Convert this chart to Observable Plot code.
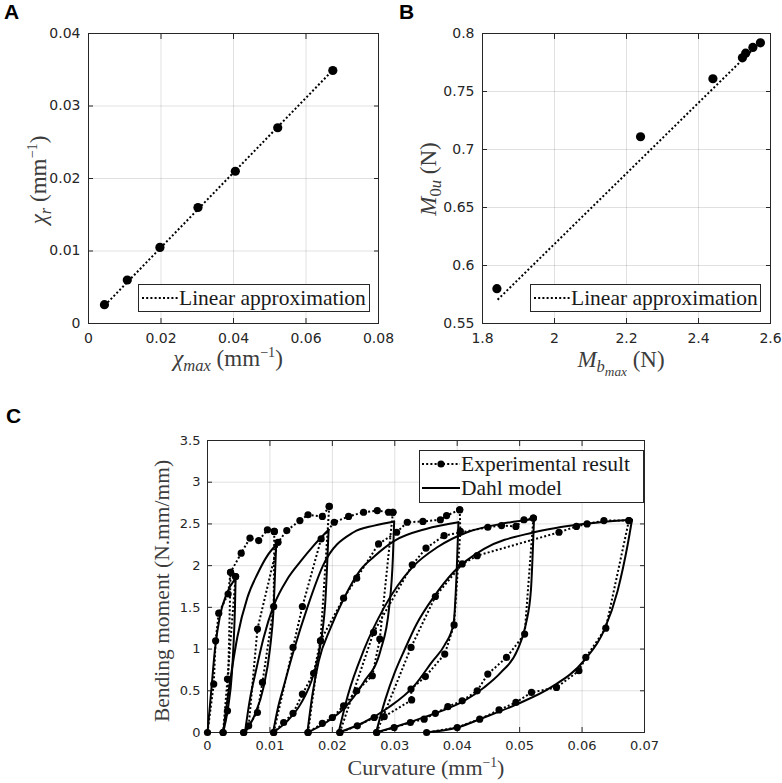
<!DOCTYPE html>
<html><head><meta charset="utf-8">
<script src="https://cdn.jsdelivr.net/npm/d3@7"></script>
<script src="https://cdn.jsdelivr.net/npm/@observablehq/plot@0.6"></script>
<style>
body{margin:0;background:#fff;}
#fig{position:relative;width:782px;height:783px;overflow:hidden;background:#fff;}
#fig svg.plot{position:absolute;}
.plab{position:absolute;font:bold 21px "Liberation Sans",Arial,sans-serif;color:#000;line-height:1;}
.ml{position:absolute;font-family:"Liberation Serif",serif;color:#3c3c3c;white-space:nowrap;line-height:1;}
.ml sup{font-size:0.62em;vertical-align:0.6em;line-height:0;}
.ml sub{font-size:0.72em;vertical-align:-0.32em;line-height:0;}
.ml sub sub{font-size:0.8em;vertical-align:-0.25em;}
.leg{position:absolute;background:#fff;border:1px solid #262626;box-sizing:border-box;}
</style></head>
<body><div id="fig"></div>
<script>
// ---------- Panel A data ----------
const aChiMax = [0.0044, 0.0107, 0.0197, 0.0302, 0.0405, 0.0522, 0.0674];
const aChiR   = [0.0026, 0.0060, 0.0105, 0.0160, 0.0210, 0.0270, 0.0349];
const aFitX = [0.0045, 0.0675];
const aFitY = [0.0025, 0.0350];
const aXTicks = [0, 0.02, 0.04, 0.06, 0.08];
const aYTicks = [0, 0.01, 0.02, 0.03, 0.04];

// ---------- Panel B data ----------
const bMbMax = [1.840, 2.239, 2.440, 2.522, 2.531, 2.551, 2.572];
const bM0u   = [0.580, 0.711, 0.761, 0.779, 0.783, 0.788, 0.792];
const bFitX = [1.842, 2.568];
const bFitY = [0.5705, 0.7914];
const bXTicks = [1.8, 2, 2.2, 2.4, 2.6];
const bYTicks = [0.55, 0.6, 0.65, 0.7, 0.75, 0.8];

// ---------- Panel C data: experimental (curvature, moment), in path order ----------
const exp1Load   = [[0,0],[0.0010,0.58],[0.0013,1.10],[0.0018,1.43],[0.0033,1.66],[0.0037,1.92],[0.0045,1.87]];
const exp1Unload = [[0.0045,1.87],[0.0032,0.64],[0.0025,0]];
const exp2Load   = [[0.0025,0],[0.0032,0.26],[0.0037,1.92],[0.0054,2.15],[0.0068,2.33],[0.0082,2.30],[0.0096,2.43],[0.0107,2.41]];
const exp2Unload = [[0.0107,2.41],[0.0106,1.51],[0.0088,0.60],[0.0080,0.24],[0.0058,0]];
const exp3Load   = [[0.0058,0],[0.0066,0.08],[0.0080,1.24],[0.0113,2.28],[0.0127,2.42],[0.0148,2.54],[0.0161,2.61],[0.0184,2.59],[0.0195,2.71]];
const exp3Unload = [[0.0195,2.71],[0.0181,1.10],[0.0170,0.71],[0.0152,0.46],[0.0137,0.23],[0.0122,0.12],[0.0106,0]];
const exp4Load   = [[0.0106,0],[0.0137,1.02],[0.0152,1.51],[0.0182,2.32],[0.0203,2.52],[0.0226,2.59],[0.0250,2.64],[0.0272,2.66],[0.0290,2.64],[0.0297,2.64]];
const exp4Unload = [[0.0297,2.64],[0.0276,1.12],[0.0264,0.68],[0.0239,0.50],[0.0218,0.32],[0.0200,0.18],[0.0184,0.11],[0.0161,0]];
const exp5Load   = [[0.0161,0],[0.0181,1.10],[0.0218,1.61],[0.0239,1.85],[0.0274,2.26],[0.0303,2.40],[0.0320,2.52],[0.0345,2.53],[0.0373,2.55],[0.0383,2.60],[0.0404,2.67]];
const exp5Unload = [[0.0404,2.67],[0.0405,2.41],[0.0395,1.29],[0.0380,0.94],[0.0349,0.67],[0.0326,0.52],[0.0327,0.39],[0.0283,0.19],[0.0267,0.18],[0.0240,0.08],[0.0212,0]];
const exp6Load   = [[0.0212,0],[0.0266,1.20],[0.0328,2.01],[0.0350,2.21],[0.0379,2.36],[0.0449,2.46],[0.0471,2.48],[0.0494,2.47],[0.0507,2.55],[0.0522,2.57]];
const exp6Unload = [[0.0522,2.57],[0.0508,1.18],[0.0479,0.90],[0.0449,0.70],[0.0432,0.50],[0.0408,0.38],[0.0385,0.31],[0.0365,0.23],[0.0347,0.16],[0.0325,0.12],[0.0299,0.06],[0.0271,0]];
const exp7Load   = [[0.0271,0],[0.0326,1.02],[0.0365,1.63],[0.0408,2.02],[0.0432,2.12],[0.0563,2.40],[0.0591,2.47],[0.0608,2.50],[0.0635,2.54],[0.0675,2.54]];
const exp7Unload = [[0.0675,2.54],[0.0638,1.25],[0.0606,0.90],[0.0595,0.74],[0.0559,0.54],[0.0519,0.48],[0.0494,0.36],[0.0467,0.27],[0.0436,0.16],[0.0400,0.06],[0.0351,0]];

// ---------- Panel C data: Dahl model branches (increasing curvature) ----------
const dahl1Load   = [[0,0],[0.0006,0.5],[0.0012,1.0],[0.0020,1.4],[0.0030,1.65],[0.0045,1.85]];
const dahl1Unload = [[0.0025,0],[0.0033,0.3],[0.0039,0.7],[0.0042,1.1],[0.0044,1.5],[0.0045,1.85]];
const dahl2Load   = [[0.0025,0],[0.0032,0.4],[0.0040,0.8],[0.0048,1.15],[0.0064,1.62],[0.0080,1.90],[0.0096,2.12],[0.0110,2.25]];
const dahl2Unload = [[0.0060,0],[0.0075,0.2],[0.0090,0.55],[0.0100,1.0],[0.0106,1.5],[0.0110,2.25]];
const dahl3Load   = [[0.0060,0],[0.0068,0.4],[0.0077,0.72],[0.0090,1.14],[0.0106,1.52],[0.0128,1.84],[0.0149,2.05],[0.0170,2.24],[0.0194,2.43]];
const dahl3Unload = [[0.0105,0],[0.0128,0.14],[0.0149,0.34],[0.0170,0.70],[0.0182,1.1],[0.0189,1.6],[0.0194,2.43]];
const dahl4Load   = [[0.0105,0],[0.0113,0.3],[0.0122,0.55],[0.0138,0.98],[0.0160,1.5],[0.0185,2.0],[0.0234,2.40],[0.0267,2.48],[0.0299,2.53]];
const dahl4Unload = [[0.0160,0],[0.0190,0.12],[0.0220,0.3],[0.0250,0.6],[0.0277,0.98],[0.0291,1.5],[0.0297,2.1],[0.0299,2.53]];
const dahl5Load   = [[0.0160,0],[0.0168,0.45],[0.0178,0.85],[0.0197,1.25],[0.0218,1.6],[0.0245,1.95],[0.0267,2.11],[0.0300,2.3],[0.0350,2.44],[0.0402,2.52]];
const dahl5Unload = [[0.0210,0],[0.0250,0.12],[0.0290,0.3],[0.0330,0.55],[0.0360,0.85],[0.0380,1.05],[0.0394,1.3],[0.0399,1.9],[0.0402,2.52]];
const dahl6Load   = [[0.0210,0],[0.0225,0.45],[0.0250,0.98],[0.0283,1.5],[0.0328,1.98],[0.0368,2.22],[0.0416,2.40],[0.0470,2.50],[0.0523,2.56]];
const dahl6Unload = [[0.0270,0],[0.0310,0.09],[0.0350,0.19],[0.0385,0.29],[0.0411,0.38],[0.0443,0.54],[0.0470,0.72],[0.0496,0.98],[0.0510,1.3],[0.0518,1.7],[0.0523,2.56]];
const dahl7Load   = [[0.0270,0],[0.0285,0.4],[0.0300,0.72],[0.0315,0.98],[0.0335,1.3],[0.0362,1.62],[0.0395,1.93],[0.0443,2.2],[0.0523,2.4],[0.0603,2.5],[0.0680,2.55]];
const dahl7Unload = [[0.0350,0],[0.0400,0.06],[0.0443,0.18],[0.0496,0.34],[0.0550,0.54],[0.0603,0.86],[0.0635,1.22],[0.0657,1.70],[0.0673,2.25],[0.0680,2.55]];
const cXTicks = [0, 0.01, 0.02, 0.03, 0.04, 0.05, 0.06, 0.07];
const cYTicks = [0, 0.5, 1, 1.5, 2, 2.5, 3, 3.5];

// ---------- helpers ----------
const fig = document.getElementById("fig");
const FRAME = "#262626";
const DOT = {stroke: "#000", strokeWidth: 2, strokeDasharray: "2,2.2", strokeLinecap: "butt", strokeLinejoin: "miter"};

function frameAxes(xt, yt, fs, padX, padY) {
  return [
    Plot.gridX(xt, {stroke: "#000", strokeOpacity: 0.12}),
    Plot.gridY(yt, {stroke: "#000", strokeOpacity: 0.12}),
    Plot.frame({stroke: FRAME, strokeWidth: 1}),
    Plot.axisX(xt, {anchor: "bottom", tickSize: -5, tickPadding: padX + 5, tickFormat: d => String(d), label: null, fontSize: fs}),
    Plot.axisX(xt, {anchor: "top", tickSize: -5, fill: "none", label: null}),
    Plot.axisY(yt, {anchor: "left", tickSize: -5, tickPadding: padY + 5, tickFormat: d => String(d), label: null, fontSize: fs}),
    Plot.axisY(yt, {anchor: "right", tickSize: -5, fill: "none", label: null})
  ];
}

function place(svg, left, top) {
  svg.classList.add("plot");
  svg.style.left = left + "px";
  svg.style.top = top + "px";
  fig.appendChild(svg);
}

function label(html, cx, cy, size, rotate) {
  const d = document.createElement("div");
  d.className = "ml";
  d.innerHTML = html;
  d.style.fontSize = size + "px";
  d.style.left = cx + "px";
  d.style.top = cy + "px";
  d.style.transform = "translate(-50%,-50%)" + (rotate ? " rotate(-90deg)" : "");
  fig.appendChild(d);
}

function panelLetter(t, left, top) {
  const d = document.createElement("div");
  d.className = "plab"; d.textContent = t;
  d.style.left = left + "px"; d.style.top = top + "px";
  fig.appendChild(d);
}

function legend(left, top, w, h, rows, fs) {
  const box = document.createElement("div");
  box.className = "leg";
  Object.assign(box.style, {left: left + "px", top: top + "px", width: w + "px", height: h + "px"});
  const svg = d3.create("svg").attr("width", w).attr("height", h).style("position", "absolute").style("left", "-1px").style("top", "-1px");
  rows.forEach(r => {
    svg.append("line").attr("x1", r.x1).attr("x2", r.x2).attr("y1", r.y).attr("y2", r.y)
      .attr("stroke", "#000").attr("stroke-width", 2).attr("stroke-dasharray", r.dash || null);
    if (r.dot) svg.append("circle").attr("cx", (r.x1 + r.x2) / 2).attr("cy", r.y).attr("r", r.dot).attr("fill", "#000");
    svg.append("text").attr("x", r.tx).attr("y", r.y).attr("dy", "0.33em")
      .attr("font-family", "Liberation Serif, serif").attr("font-size", fs).attr("fill", "#1a1a1a")
      .text(r.text);
  });
  box.appendChild(svg.node());
  fig.appendChild(box);
}

const baseStyle = {fontFamily: "DejaVu Sans, sans-serif", color: FRAME, background: "transparent", overflow: "visible"};

// ---------- Panel A ----------
const aPts = aChiMax.map((x, i) => ({x, y: aChiR[i]}));
const aFit = aFitX.map((x, i) => ({x, y: aFitY[i]}));
place(Plot.plot({
  width: 391, height: 390, marginLeft: 88, marginRight: 13, marginTop: 33, marginBottom: 67,
  style: baseStyle,
  x: {domain: [0, 0.08]}, y: {domain: [0, 0.04]},
  marks: [
    ...frameAxes(aXTicks, aYTicks, 14, 10, 8),
    Plot.line(aFit, {x: "x", y: "y", ...DOT}),
    Plot.dot(aPts, {x: "x", y: "y", r: 4.6, fill: "#000"})
  ]
}), 0, 0);

// ---------- Panel B ----------
const bPts = bMbMax.map((x, i) => ({x, y: bM0u[i]}));
const bFit = bFitX.map((x, i) => ({x, y: bFitY[i]}));
place(Plot.plot({
  width: 391, height: 390, marginLeft: 91, marginRight: 12, marginTop: 33, marginBottom: 67,
  style: baseStyle,
  x: {domain: [1.8, 2.6]}, y: {domain: [0.55, 0.8]},
  marks: [
    ...frameAxes(bXTicks, bYTicks, 14, 10, 8),
    Plot.line(bFit, {x: "x", y: "y", ...DOT}),
    Plot.dot(bPts, {x: "x", y: "y", r: 4.6, fill: "#000"})
  ]
}), 391, 0);

// ---------- Panel C ----------
const expBranches = [exp1Load, exp1Unload, exp2Load, exp2Unload, exp3Load, exp3Unload, exp4Load, exp4Unload,
                     exp5Load, exp5Unload, exp6Load, exp6Unload, exp7Load, exp7Unload];
const dahlBranches = [dahl1Load, dahl1Unload, dahl2Load, dahl2Unload, dahl3Load, dahl3Unload, dahl4Load, dahl4Unload,
                      dahl5Load, dahl5Unload, dahl6Load, dahl6Unload, dahl7Load, dahl7Unload];
const expRows = expBranches.flatMap((b, i) => b.map(([x, y]) => ({x, y, b: i})));
const dahlRows = dahlBranches.flatMap((b, i) => b.map(([x, y]) => ({x, y, b: i})));
place(Plot.plot({
  width: 520, height: 363, marginLeft: 57, marginRight: 26, marginTop: 20, marginBottom: 51,
  style: baseStyle,
  x: {domain: [0, 0.07]}, y: {domain: [0, 3.5]},
  marks: [
    ...frameAxes(cXTicks, cYTicks, 13, 8, 7),
    Plot.line(dahlRows, {x: "x", y: "y", z: "b", stroke: "#000", strokeWidth: 2, curve: "monotone-x"}),
    Plot.line(expRows, {x: "x", y: "y", z: "b", ...DOT}),
    Plot.dot(expRows, {x: "x", y: "y", r: 3.6, fill: "#000"})
  ]
}), 150, 420);

// ---------- labels ----------
panelLetter("A", 4, 1);
panelLetter("B", 399, 1);
panelLetter("C", 6, 405);

label('<i>χ</i><sub><i>max</i></sub> (mm<sup>−1</sup>)', 228, 358, 23);
label('<i>χ</i><sub><i>r</i></sub> (mm<sup>−1</sup>)', 38, 180, 23, true);
label('<i>M</i><sub><i>b</i><sub><i>max</i></sub></sub> (N)', 621, 360, 23);
label('<i>M</i><sub>0<i>u</i></sub> (N)', 428, 179, 23, true);
label('Curvature (mm<sup>−1</sup>)', 426, 768, 22);
label('Bending moment (N.mm/mm)', 163, 591, 21.5, true);

legend(138, 284, 232, 28, [{x1: 4, x2: 40, y: 14, dash: "2,2.2", tx: 41, text: "Linear approximation"}], 21.5);
legend(530, 284, 231, 28, [{x1: 4, x2: 40, y: 14, dash: "2,2.2", tx: 41, text: "Linear approximation"}], 21.5);
legend(419, 450, 225, 53, [
  {x1: 3, x2: 41, y: 14, dash: "2,2.2", dot: 3.6, tx: 42, text: "Experimental result"},
  {x1: 3, x2: 41, y: 38, tx: 42, text: "Dahl model"}
], 21.5);
</script>
</body></html>
